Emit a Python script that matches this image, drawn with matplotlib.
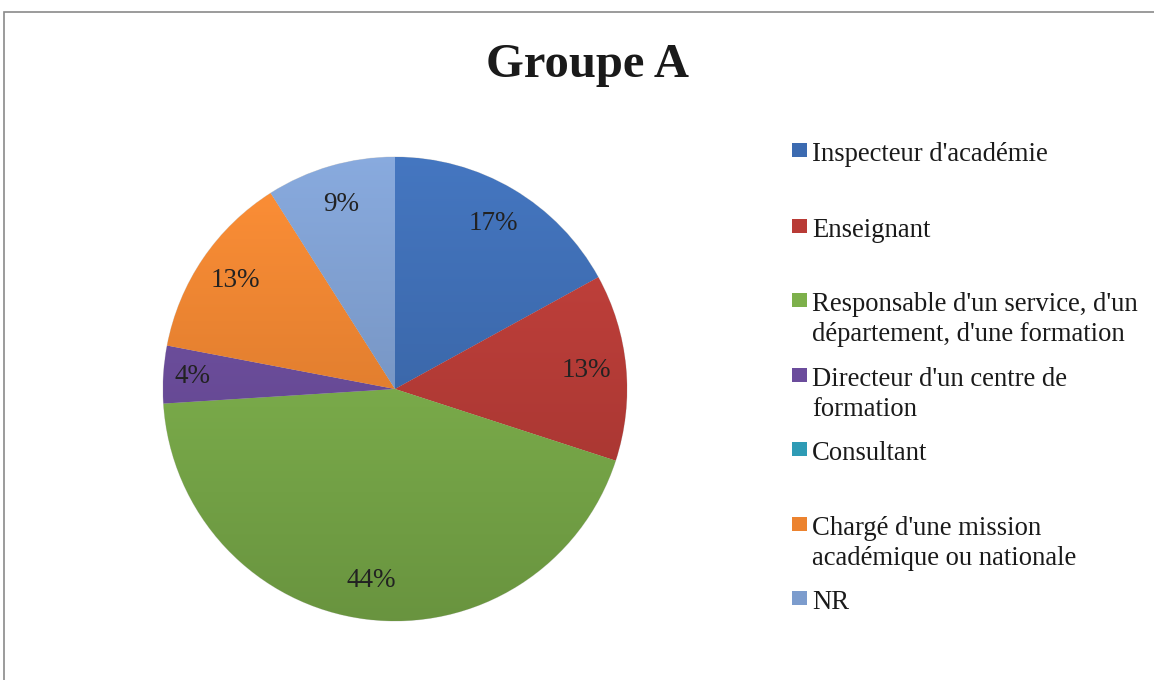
import matplotlib
matplotlib.use("Agg")
import matplotlib.pyplot as plt
import numpy as np
from matplotlib.colors import to_rgb
from matplotlib.patches import Rectangle

title = "Groupe A"
categories = [
    "Inspecteur d'académie",
    "Enseignant",
    "Responsable d'un service, d'un\ndépartement, d'une formation",
    "Directeur d'un centre de\nformation",
    "Consultant",
    "Chargé d'une mission\nacadémique ou nationale",
    "NR",
]
values = [17, 13, 44, 4, 0, 13, 9]
colors = ["#3C6BB1", "#B93B36", "#7DB04B", "#6B4C9C", "#2E9BB5", "#EC832F", "#7C9CCD"]

plt.rcParams['font.family'] = ['Liberation Serif', 'DejaVu Serif']

W, H = 1154, 680
fig = plt.figure(figsize=(W / 100, H / 100), dpi=100)
fig.patch.set_facecolor("white")

def fx(px):
    return px / W

def fy(py):
    return 1 - py / H

# outer frame
fig.patches.append(Rectangle((fx(4), fy(700)), fx(1170) - fx(4), fy(12) - fy(700),
                             transform=fig.transFigure, fill=False,
                             edgecolor="#8a8a8a", linewidth=1.2))

# title
fig.text(fx(587), fy(77), title, ha="center", va="baseline",
         fontsize=35, fontweight="bold", color="#1a1a1a")

# pie axes
cx, cy, r = 395, 389, 232
ax = fig.add_axes([fx(cx - r), fy(cy + r), (2 * r) / W, (2 * r) / H])
ax.set_xlim(-1, 1)
ax.set_ylim(-1, 1)
ax.set_aspect("equal")
ax.axis("off")

def pct(p):
    return "" if p < 0.5 else f"{p:.0f}%"

wedges, texts, autotexts = ax.pie(values, colors=colors, startangle=90,
                                  counterclock=False, radius=1,
                                  autopct=pct, pctdistance=0.83,
                                  wedgeprops=dict(linewidth=0.6, edgecolor="#d9d9d9"),
                                  textprops=dict(fontsize=19.5, color="#222222"))
ax.set_xlim(-1, 1)
ax.set_ylim(-1, 1)

# small slices: label pushed outward a little
for v, t in zip(values, autotexts):
    if 0 < v < 5:
        x, y = t.get_position()
        t.set_position((x * 0.875 / 0.83, y * 0.875 / 0.83))

# gradient overlay per wedge (lighter top, darker bottom)
yy = np.linspace(1, 0, 256)[:, None]
for w, c in zip(wedges, colors):
    base = np.array(to_rgb(c))
    top = np.clip(base * 1.06 + 0.02, 0, 1)
    bot = np.clip(base * 0.84, 0, 1)
    grad = (yy[..., None] * top + (1 - yy[..., None]) * bot)
    grad = np.repeat(grad, 4, axis=1)
    im = ax.imshow(grad, extent=(-1, 1, -1, 1), origin="upper", zorder=w.get_zorder() + 0.1,
                   interpolation="bilinear", aspect="auto")
    im.set_clip_path(w)
for t in autotexts:
    t.set_zorder(10)
ax.set_xlim(-1, 1)
ax.set_ylim(-1, 1)

# legend (manual placement)
square_y = [150, 226, 300, 375, 449, 524, 598]
for lab, c, y in zip(categories, colors, square_y):
    fig.patches.append(Rectangle((fx(792), fy(y + 7)), fx(807) - fx(792), fy(y - 7) - fy(y + 7),
                                 transform=fig.transFigure, facecolor=c, edgecolor="none"))
    lines = lab.split("\n")
    for i, ln in enumerate(lines):
        fig.text(fx(812), fy(y + 11 + 30 * i), ln, ha="left", va="baseline",
                 fontsize=19.2, color="#1a1a1a")

fig.savefig("out.png", dpi=100)
